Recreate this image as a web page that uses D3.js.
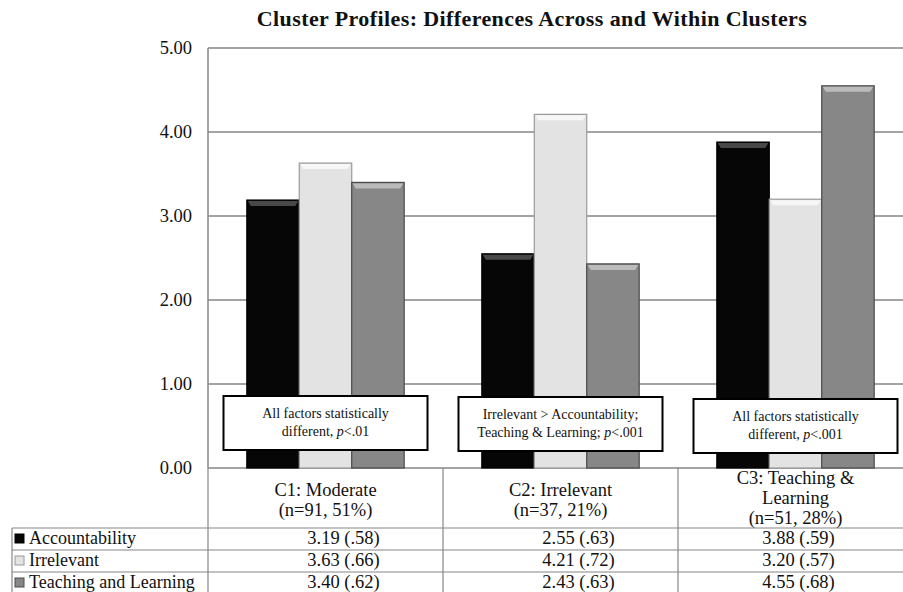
<!DOCTYPE html>
<html lang="en">
<head>
    <meta charset="utf-8">
    <title>Cluster Profiles</title>
    <script src="https://d3js.org/d3.v7.min.js"></script>
    <style>
        body { margin: 0; background: #fff; }
        text { font-family: "Liberation Serif", "Times New Roman", serif; fill: #111; }
    </style>
</head>
<body>
<div id="chart"></div>
<script>
    // chart data
    const clusters = ["C1", "C2", "C3"];
    const clusterLabels = [
        ["C1: Moderate", "(n=91, 51%)"],
        ["C2: Irrelevant", "(n=37, 21%)"],
        ["C3: Teaching &", "Learning", "(n=51, 28%)"]
    ];
    const factors = ["Accountability", "Irrelevant", "Teaching and Learning"];
    const accountability = [3.19, 2.55, 3.88];
    const irrelevant = [3.63, 4.21, 3.20];
    const teaching = [3.40, 2.43, 4.55];
    const accountabilitySd = [".58", ".63", ".59"];
    const irrelevantSd = [".66", ".72", ".57"];
    const teachingSd = [".62", ".63", ".68"];
    const notes = [
        [["All factors statistically"], ["different, ", ["p", true], "<.01"]],
        [["Irrelevant > Accountability;"], ["Teaching & Learning; ", ["p", true], "<.001"]],
        [["All factors statistically"], ["different, ", ["p", true], "<.001"]]
    ];
    const yTicks = [0, 1, 2, 3, 4, 5];

    const means = [accountability, irrelevant, teaching];
    const sds = [accountabilitySd, irrelevantSd, teachingSd];
    const fills = ["#060606", "#e3e3e3", "#878787"];
    const strokes = ["#000", "#9a9a9a", "#4a4a4a"];
    const tops = ["#555", "#fafafa", "#c4c4c4"];

    const W = 903, H = 592;
    const svg = d3.select("#chart").append("svg")
        .attr("width", W).attr("height", H);

    const x = d3.scaleBand().domain(clusters).range([208, 913]);
    const xs = d3.scaleBand().domain(factors).range([0, x.bandwidth()])
        .paddingOuter(0.74);
    const y = d3.scaleLinear().domain([0, 5]).range([468, 48]);

    // title
    svg.append("text")
        .attr("x", 532).attr("y", 26)
        .attr("text-anchor", "middle")
        .style("font-weight", "bold").style("font-size", "22px")
        .style("letter-spacing", "0.4px")
        .text("Cluster Profiles: Differences Across and Within Clusters");

    // gridlines + axis
    svg.append("g").selectAll("line")
        .data(yTicks)
        .join("line")
        .attr("x1", 208).attr("x2", W)
        .attr("y1", d => y(d)).attr("y2", d => y(d))
        .attr("stroke", "#868686").attr("stroke-width", 1.5);
    svg.append("line")
        .attr("x1", 208).attr("x2", 208)
        .attr("y1", y(5)).attr("y2", y(0))
        .attr("stroke", "#868686").attr("stroke-width", 1.5);
    svg.append("g").selectAll("text")
        .data(yTicks)
        .join("text")
        .attr("x", 192).attr("y", d => y(d) + 6)
        .attr("text-anchor", "end")
        .style("font-size", "18.5px")
        .text(d => d.toFixed(2));

    // bars
    const barData = [];
    clusters.forEach((c, i) => factors.forEach((f, j) => {
        barData.push({c, f, j, v: means[j][i]});
    }));
    const bars = svg.append("g").selectAll("g")
        .data(barData)
        .join("g")
        .attr("transform", d => `translate(${x(d.c) + xs(d.f)},0)`);
    const bw = xs.bandwidth();
    bars.append("rect")
        .attr("x", 0).attr("y", d => y(d.v))
        .attr("width", bw).attr("height", d => y(0) - y(d.v))
        .attr("fill", d => fills[d.j])
        .attr("stroke", d => strokes[d.j]).attr("stroke-width", 1.2);
    bars.append("path")
        .attr("d", d => {
            const t = y(d.v);
            return `M1,${t + 1}L${bw - 1},${t + 1}L${bw - 4},${t + 6}L4,${t + 6}Z`;
        })
        .attr("fill", d => tops[d.j]).attr("opacity", 0.85);

    // annotation boxes
    const boxTop = [396, 397, 399];
    const notesG = svg.append("g").selectAll("g")
        .data(notes)
        .join("g")
        .attr("transform", (d, i) => `translate(${x(clusters[i]) + x.bandwidth() / 2},${boxTop[i]})`);
    notesG.append("rect")
        .attr("x", -102).attr("y", 0)
        .attr("width", 204).attr("height", 54)
        .attr("fill", "#fff").attr("stroke", "#000").attr("stroke-width", 2);
    notesG.each(function (lines) {
        const g = d3.select(this);
        lines.forEach((parts, k) => {
            const t = g.append("text")
                .attr("x", 0).attr("y", 22 + k * 18)
                .attr("text-anchor", "middle")
                .style("font-size", "14px");
            parts.forEach(p => {
                if (Array.isArray(p)) t.append("tspan").style("font-style", "italic").text(p[0]);
                else t.append("tspan").text(p);
            });
        });
    });

    // data table
    const table = svg.append("g");
    const rowY = [528, 550, 572, 594];
    table.selectAll("line.v")
        .data([208, 443, 678])
        .join("line")
        .attr("x1", d => d).attr("x2", d => d)
        .attr("y1", 468).attr("y2", H)
        .attr("stroke", "#868686").attr("stroke-width", 1.2);
    table.append("line")
        .attr("x1", 12).attr("x2", 12).attr("y1", rowY[0]).attr("y2", H)
        .attr("stroke", "#868686").attr("stroke-width", 1.2);
    table.selectAll("line.h")
        .data(rowY.slice(0, 3))
        .join("line")
        .attr("x1", 12).attr("x2", W)
        .attr("y1", d => d).attr("y2", d => d)
        .attr("stroke", "#868686").attr("stroke-width", 1.2);

    // category headers
    clusterLabels.forEach((lines, i) => {
        const cx = x(clusters[i]) + x.bandwidth() / 2;
        const y0 = lines.length === 2 ? 496 : 484;
        lines.forEach((s, k) => {
            table.append("text")
                .attr("x", cx).attr("y", y0 + k * 20)
                .attr("text-anchor", "middle")
                .style("font-size", "18.5px")
                .text(s);
        });
    });

    // legend column + values
    factors.forEach((f, j) => {
        const cy = (rowY[j] + rowY[j + 1]) / 2;
        table.append("rect")
            .attr("x", 15).attr("y", cy - 5)
            .attr("width", 9).attr("height", 9)
            .attr("fill", fills[j]).attr("stroke", strokes[j]);
        table.append("text")
            .attr("x", 29).attr("y", cy + 5)
            .style("font-size", "18px")
            .text(f);
        clusters.forEach((c, i) => {
            table.append("text")
                .attr("x", x(c) + x.bandwidth() / 2 + (i < 2 ? 18 : 3))
                .attr("y", cy + 5)
                .attr("text-anchor", "middle")
                .style("font-size", "18.5px")
                .text(`${means[j][i].toFixed(2)} (${sds[j][i]})`);
        });
    });
</script>
</body>
</html>
